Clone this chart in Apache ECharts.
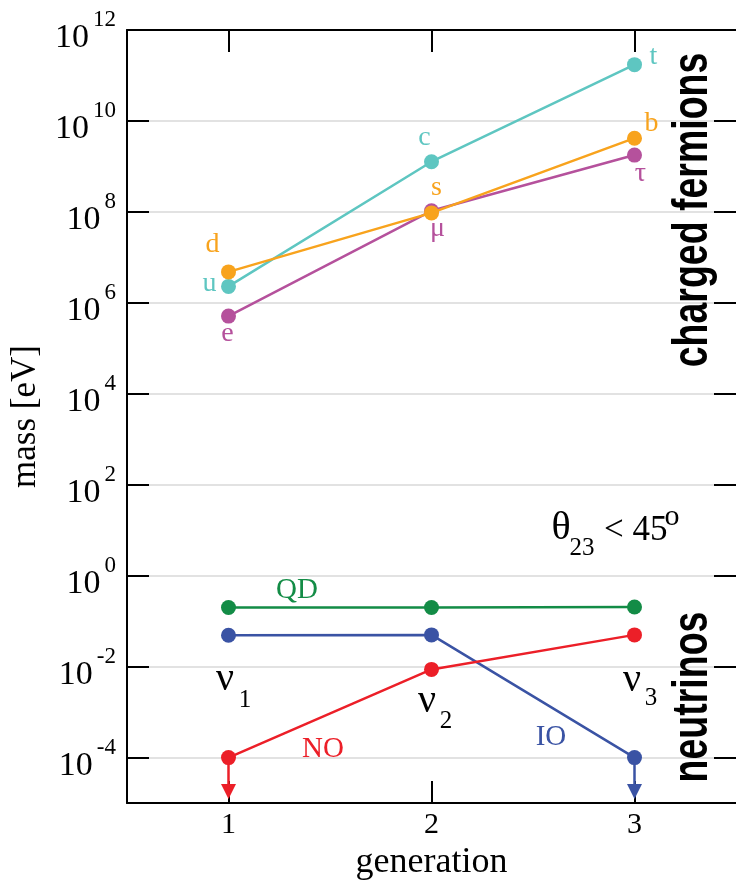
<!DOCTYPE html>
<html><head><meta charset="utf-8">
<script src="https://cdn.jsdelivr.net/npm/echarts@6/dist/echarts.min.js"></script>
<style>html,body{margin:0;padding:0;background:#fff}#c{width:736px;height:886px}</style>
</head><body><div id="c"></div>
<script>
// ---- data ----
const generations = [1, 2, 3];
const upQuarkMass = [2.3e6, 1.27e9, 1.73e11];
const upQuarkNames = ['u', 'c', 't'];
const downQuarkMass = [4.8e6, 9.5e7, 4.18e9];
const downQuarkNames = ['d', 's', 'b'];
const leptonMass = [5.11e5, 1.057e8, 1.777e9];
const leptonNames = ['e', 'μ', 'τ'];
const nuQD = [0.2, 0.2, 0.205];
const nuIO = [0.049, 0.05, 1e-4];
const nuNO = [1e-4, 0.0087, 0.05];
const limitNOGen = 1, limitIOGen = 3;
const limitFrom = 1e-4, limitArrow = 1.8e-5;
const yTickExponents = [-4, -2, 0, 2, 4, 6, 8, 10, 12];
const yTickValues = yTickExponents.map(e => Number('1e' + e));
const xTickValues = [1, 2, 3];

// ---- style ----
const SERIF = "'Liberation Serif','Times New Roman',serif";
const C_UP = '#5ec6c1', C_DOWN = '#f8a31d', C_LEP = '#b5519c';
const C_QD = '#138c46', C_IO = '#3a53a4', C_NO = '#ec1f28';
const upOffsets = [[-19, -3], [-7, -24], [19, -8]];
const downOffsets = [[-16, -27], [5, -25], [17, -15]];
const lepOffsets = [[-1, 18], [6, 18], [6, 19]];

function pointSeries(masses, names, color, offsets, z) {
  return {
    type: 'line', z: z,
    data: generations.map((g, i) => ({
      value: [g, masses[i]],
      label: names ? { show: true, formatter: names[i], offset: offsets[i] } : { show: false }
    })),
    symbol: 'circle', symbolSize: 15,
    lineStyle: { color: color, width: 2.5 },
    itemStyle: { color: color },
    label: { position: 'inside', color: color, fontFamily: SERIF, fontSize: 28 },
    emphasis: { disabled: true }
  };
}
function limitSeries(gen, color) {
  return {
    type: 'line', z: 1,
    data: [
      { value: [gen, limitFrom], symbol: 'none' },
      { value: [gen, limitArrow], symbol: 'triangle', symbolRotate: 180, symbolSize: [15, 15] }
    ],
    lineStyle: { color: color, width: 2.5 },
    itemStyle: { color: color },
    emphasis: { disabled: true }
  };
}
function t(x, y, text, size, color, extra) {
  return {
    type: 'text', x: x, y: y, z: 100,
    style: Object.assign({ text: text, fontFamily: SERIF, fontSize: size, fill: color, align: 'center', verticalAlign: 'middle' }, extra || {})
  };
}

const chart = echarts.init(document.getElementById('c'), null, { renderer: 'canvas' });
const yAxisCommon = {
  type: 'log', logBase: 10, min: 1e-5, max: 1e12,
  axisLine: { show: true, lineStyle: { color: '#000', width: 2 } },
  axisTick: { show: true, inside: true, length: 22, customValues: yTickValues, lineStyle: { color: '#000', width: 2 } },
  minorTick: { show: false }
};
const xAxisCommon = {
  type: 'value', min: 0.5, max: 3.5,
  axisLine: { show: true, onZero: false, lineStyle: { color: '#000', width: 2 } },
  axisTick: { show: true, inside: true, length: 22, customValues: xTickValues, lineStyle: { color: '#000', width: 2 } },
  splitLine: { show: false }
};
chart.setOption({
  animation: false,
  backgroundColor: '#fff',
  grid: { left: 127, right: -2, top: 30, bottom: 78, containLabel: false },
  xAxis: [
    Object.assign({}, xAxisCommon, {
      position: 'bottom',
      name: 'generation', nameLocation: 'middle', nameGap: 38,
      nameTextStyle: { fontFamily: SERIF, fontSize: 36, color: '#000' },
      axisLabel: { show: true, customValues: xTickValues, margin: 7, fontFamily: SERIF, fontSize: 30, color: '#000' }
    }),
    Object.assign({}, xAxisCommon, { position: 'top', axisLabel: { show: false } })
  ],
  yAxis: [
    Object.assign({}, yAxisCommon, {
      position: 'left',
      name: 'mass [eV]', nameLocation: 'middle', nameGap: 84, nameRotate: 90,
      nameTextStyle: { fontFamily: SERIF, fontSize: 35, color: '#000' },
      splitLine: { show: true, lineStyle: { color: '#d9d9d9', width: 1.5 } },
      axisLabel: {
        show: true, customValues: yTickValues, margin: 11, align: 'right',
        formatter: v => '{b|10}{s|' + Math.round(Math.log10(v)) + '}',
        rich: {
          b: { fontFamily: SERIF, fontSize: 34, lineHeight: 34, padding: [17, 0, 0, 0], color: '#000' },
          s: { fontFamily: SERIF, fontSize: 23, lineHeight: 23, padding: [0, 0, 20, 4], color: '#000' }
        }
      }
    }),
    Object.assign({}, yAxisCommon, {
      position: 'right', axisLabel: { show: false }, splitLine: { show: false },
      axisLine: { show: false }
    })
  ],
  series: [
    pointSeries(upQuarkMass, upQuarkNames, C_UP, upOffsets, 3),
    pointSeries(leptonMass, leptonNames, C_LEP, lepOffsets, 4),
    pointSeries(downQuarkMass, downQuarkNames, C_DOWN, downOffsets, 5),
    limitSeries(limitNOGen, C_NO),
    limitSeries(limitIOGen, C_IO),
    pointSeries(nuQD, null, C_QD, null, 3),
    pointSeries(nuIO, null, C_IO, null, 4),
    pointSeries(nuNO, null, C_NO, null, 5)
  ],
  graphic: [
    t(297, 590, 'QD', 29, C_QD),
    t(323, 749, 'NO', 29, C_NO),
    t(551, 737, 'IO', 29, C_IO),
    t(225, 679, 'ν', 40, '#000'), t(245, 700, '1', 25, '#000'),
    t(427, 701, 'ν', 40, '#000'), t(446, 721, '2', 25, '#000'),
    t(632, 680, 'ν', 40, '#000'), t(651, 698, '3', 25, '#000'),
    t(561, 528, 'θ', 40, '#000'),
    t(582, 548, '23', 25, '#000'),
    t(604, 531, '< 45', 35, '#000', { align: 'left' }),
    t(672, 517, 'o', 30, '#000'),
    { type: 'text', x: 693, y: 210, rotation: Math.PI / 2, scaleX: 0.75, z: 100,
      style: { text: 'charged fermions', fontFamily: "'Liberation Sans',Arial,sans-serif", fontWeight: 'bold', fontSize: 50, fill: '#000', align: 'center', verticalAlign: 'middle' } },
    { type: 'text', x: 693, y: 697, rotation: Math.PI / 2, scaleX: 0.75, z: 100,
      style: { text: 'neutrinos', fontFamily: "'Liberation Sans',Arial,sans-serif", fontWeight: 'bold', fontSize: 50, fill: '#000', align: 'center', verticalAlign: 'middle' } }
  ]
});
</script>
</body></html>
